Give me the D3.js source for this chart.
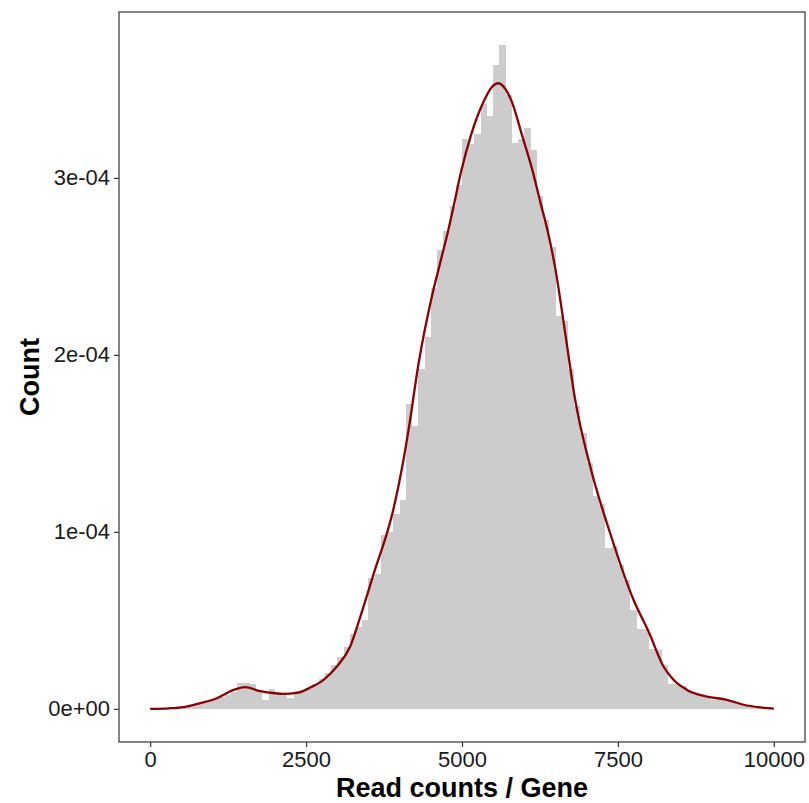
<!DOCTYPE html>
<html>
<head>
<meta charset="utf-8">
<script src="https://cdn.jsdelivr.net/npm/d3@7/dist/d3.min.js"></script>
<style>
body { margin:0; background:#fff; }
svg { display:block; font-family:"Liberation Sans", Arial, sans-serif; }
</style>
</head>
<body>
<svg id="hist_svg" width="809" height="803"></svg>
<script>

// histogram: bins of 100 reads, density values in units of 1e-04
var bin_width=100;
var bin_starts=d3.range(0,10000,bin_width);
var bin_density=[
	0.002,0.003,0.004,0.006,0.008,0.012,0.018,0.025,0.035,0.045,
	0.055,0.068,0.080,0.095,0.148,0.145,0.140,0.100,0.050,0.113,
	0.090,0.085,0.062,0.098,0.100,0.120,0.140,0.170,0.200,0.245,
	0.290,0.350,0.420,0.460,0.500,0.740,0.760,0.980,1.000,1.100,
	1.180,1.720,1.600,1.920,2.100,2.380,2.590,2.700,2.840,2.960,
	3.220,3.190,3.250,3.420,3.350,3.640,3.750,3.470,3.200,3.220,
	3.280,3.160,2.900,2.760,2.610,2.220,2.190,1.920,1.710,1.560,
	1.390,1.200,1.160,0.910,0.920,0.810,0.730,0.560,0.450,0.450,
	0.340,0.330,0.250,0.140,0.140,0.130,0.100,0.080,0.075,0.060,
	0.050,0.055,0.050,0.040,0.025,0.020,0.010,0.005,0.003,0.002];

// kernel density curve
var dens_x=[0,300,535,802,1069,1336,1523,1764,2000,2138,2352,2566,2780,2993,3207,3360,3581,3902,4052,4143,4303,4517,4650,4784,4854,4982,5143,5345,5470,5586,5700,5800,5961,6121,6254,6388,6495,6655,6815,7056,7376,7750,8000,8231,8391,8607,8927,9248,9515,9782,10000];
var dens_y=[0,0.003,0.010,0.032,0.060,0.107,0.123,0.100,0.088,0.085,0.090,0.120,0.164,0.239,0.352,0.510,0.760,1.130,1.388,1.576,1.950,2.330,2.520,2.710,2.820,3.030,3.240,3.430,3.510,3.535,3.500,3.430,3.243,3.054,2.866,2.678,2.490,2.123,1.746,1.369,0.992,0.616,0.430,0.239,0.164,0.107,0.069,0.051,0.023,0.008,0.001];

var x_ticks=[0,2500,5000,7500,10000];
var y_ticks=[0,1,2,3];
var unit=1e-4;

var sciFormat=function(v)
	{
	// ggplot style: 0e+00, 1e-04
	if(v==0) return "0e+00";
	var e=Math.floor(Math.log10(Math.abs(v))+1e-9);
	var m=Math.round(v/Math.pow(10,e));
	var sign=e<0 ? "-" : "+";
	var ae=Math.abs(e);
	return m+"e"+sign+(ae<10 ? "0"+ae : ae);
	};

window.onload=function() {
	var svg=d3.select("#hist_svg");
	var left=119, top=12, right=805, bottom=742;

	var x_lo=0, x_hi=10000;
	var x_pad=(x_hi-x_lo)*0.05;
	var x=d3.scaleLinear().domain([x_lo-x_pad,x_hi+x_pad]).range([left,right]);

	var y_max=d3.max(bin_density)*unit;
	var y=d3.scaleLinear().domain([-0.05*y_max,1.05*y_max]).range([bottom,top]);
	console.log('y max is '+y_max);

	svg.selectAll("rect.bar")
		.data(bin_starts)
		.enter()
		.append("rect")
		.attr("class","bar")
		.attr("x",function(d) { return x(d); })
		.attr("y",function(d,i) { return y(bin_density[i]*unit); })
		.attr("width",function(d) { return x(d+bin_width)-x(d); })
		.attr("height",function(d,i) { return y(0)-y(bin_density[i]*unit); })
		.attr("fill","#cccccc")
		.attr("shape-rendering","crispEdges");

	var line=d3.line()
		.x(function(d,i) { return x(dens_x[i]); })
		.y(function(d,i) { return y(dens_y[i]*unit); })
		.curve(d3.curveMonotoneX);
	svg.append("path")
		.datum(dens_x)
		.attr("d",line)
		.attr("fill","none")
		.attr("stroke","#8b0000")
		.attr("stroke-width",2.3)
		.attr("stroke-linecap","butt");

	// panel border
	svg.append("rect")
		.attr("x",left).attr("y",top)
		.attr("width",right-left).attr("height",bottom-top)
		.attr("fill","none")
		.attr("stroke","#333333")
		.attr("stroke-width",1.2);

	var x_axis=d3.axisBottom(x).tickValues(x_ticks).tickSize(5).tickPadding(4).tickFormat(d3.format("d"));
	var gx=svg.append("g").attr("transform","translate(0,"+bottom+")").call(x_axis);
	var y_axis=d3.axisLeft(y).tickValues(y_ticks.map(function(t) { return t*unit; })).tickSize(5).tickPadding(4).tickFormat(sciFormat);
	var gy=svg.append("g").attr("transform","translate("+left+",0)").call(y_axis);

	[gx,gy].forEach(function(g) {
		g.select(".domain").remove();
		g.selectAll(".tick line").attr("stroke","#333333").attr("stroke-width",1.2);
		g.selectAll(".tick text")
			.attr("fill","#1a1a1a")
			.style("font-size","22px")
			.style("font-family","'Liberation Sans', Arial, sans-serif");
		});

	svg.append("text")
		.attr("x",(left+right)/2)
		.attr("y",797)
		.attr("text-anchor","middle")
		.style("font-size","27px")
		.style("font-weight","bold")
		.text("Read counts / Gene");

	svg.append("text")
		.attr("transform","translate(39,"+((top+bottom)/2)+") rotate(-90)")
		.attr("text-anchor","middle")
		.style("font-size","27px")
		.style("font-weight","bold")
		.text("Count");
};
</script>
</body>
</html>
